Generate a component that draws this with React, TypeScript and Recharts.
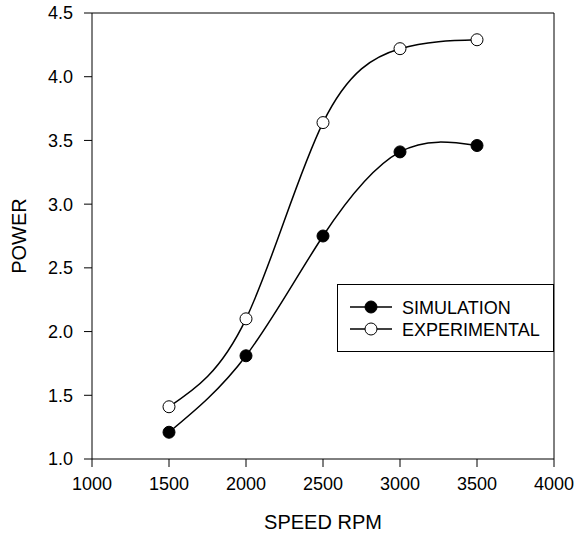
import { LineChart, Line, XAxis, YAxis, ReferenceLine } from "recharts"

const rpm = [1500, 2000, 2500, 3000, 3500]
const simulation = [1.21, 1.81, 2.75, 3.41, 3.46]
const experimental = [1.41, 2.1, 3.64, 4.22, 4.29]
const xTicks = [1000, 1500, 2000, 2500, 3000, 3500, 4000]
const yTicks = [1.0, 1.5, 2.0, 2.5, 3.0, 3.5, 4.0, 4.5]

const data = rpm.map((r, i) => ({ rpm: r, sim: simulation[i], exp: experimental[i] }))

const font = "'Liberation Sans', Arial, sans-serif"

function LegendBox() {
  return (
    <svg width={217} height={68} style={{ display: "block" }}>
      <rect x={0.5} y={0.5} width={216} height={67} fill="#fff" stroke="#000" />
      <line x1={13} y1={23} x2={55} y2={23} stroke="#000" strokeWidth={1.5} />
      <circle cx={34} cy={23} r={6} fill="#000" stroke="#000" />
      <text x={65} y={29.5} fontSize={18} fontFamily={font} fill="#000">SIMULATION</text>
      <line x1={13} y1={45} x2={55} y2={45} stroke="#000" strokeWidth={1.5} />
      <circle cx={34} cy={45} r={6} fill="#fff" stroke="#000" />
      <text x={65} y={51.5} fontSize={18} fontFamily={font} fill="#000">EXPERIMENTAL</text>
    </svg>
  )
}

export default function App() {
  return (
    <div style={{ position: "absolute", left: 0, top: 0, width: 576, height: 535, background: "#fff" }}>
      <LineChart width={576} height={535} data={data} margin={{ top: 13, right: 22, left: 0, bottom: 0 }}>
        <XAxis
          dataKey="rpm"
          type="number"
          domain={[1000, 4000]}
          ticks={xTicks}
          height={76}
          tickSize={8}
          tickMargin={10}
          stroke="#000"
          tick={{ fill: "#000", fontSize: 18, fontFamily: font }}
          label={{
            content: () => (
              <text x={323} y={529} textAnchor="middle" fontSize={20} fontFamily={font} fill="#000">
                SPEED RPM
              </text>
            ),
          }}
        />
        <YAxis
          type="number"
          domain={[1, 4.5]}
          ticks={yTicks}
          width={92}
          tickSize={8}
          tickMargin={11}
          stroke="#000"
          tickFormatter={(v: number) => v.toFixed(1)}
          tick={{ fill: "#000", fontSize: 18, fontFamily: font }}
          label={{
            content: () => (
              <text x={26} y={236} transform="rotate(-90 26 236)" textAnchor="middle" fontSize={20} fontFamily={font} fill="#000">
                POWER
              </text>
            ),
          }}
        />
        <ReferenceLine x={4000} stroke="#000" />
        <ReferenceLine y={4.5} stroke="#000" />
        <Line
          dataKey="sim"
          type="natural"
          stroke="#000"
          strokeWidth={1.5}
          dot={{ r: 6, fill: "#000", stroke: "#000", strokeWidth: 1 }}
          isAnimationActive={false}
        />
        <Line
          dataKey="exp"
          type="natural"
          stroke="#000"
          strokeWidth={1.5}
          dot={{ r: 6, fill: "#fff", stroke: "#000", strokeWidth: 1 }}
          isAnimationActive={false}
        />
      </LineChart>
      <div style={{ position: "absolute", left: 337, top: 284 }}>
        <LegendBox />
      </div>
    </div>
  )
}
